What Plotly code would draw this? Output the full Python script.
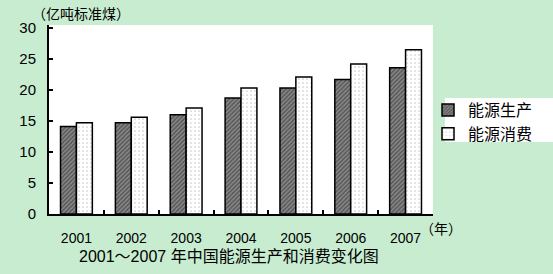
import plotly.graph_objects as go

years = ["2001", "2002", "2003", "2004", "2005", "2006", "2007"]
production = [14.1, 14.7, 16.0, 18.7, 20.3, 21.7, 23.6]
consumption = [14.7, 15.6, 17.1, 20.3, 22.1, 24.2, 26.5]
y_ticks = [0, 5, 10, 15, 20, 25, 30]

FONT = "Liberation Sans, Noto Sans CJK SC, sans-serif"
BG = "#c8ecd0"

fig = go.Figure()
fig.add_trace(go.Bar(
    x=years, y=production, name="能源生产",
    marker=dict(color="#6a6a6a", line=dict(color="black", width=1.5),
                pattern=dict(shape="/", fgcolor="#222", bgcolor="#8a8a8a", size=3, solidity=0.5)),
))
fig.add_trace(go.Bar(
    x=years, y=consumption, name="能源消费",
    marker=dict(color="white", line=dict(color="black", width=1.5),
                pattern=dict(shape=".", fgcolor="#999", bgcolor="white", size=4, solidity=0.15)),
))

fig.update_layout(
    width=553, height=274,
    margin=dict(l=49, r=120, t=25, b=60),
    paper_bgcolor=BG, plot_bgcolor="white",
    barmode="group", bargap=0.42, bargroupgap=0,
    font=dict(family=FONT, color="black", size=13),
    showlegend=True,
    legend=dict(x=0.987, xanchor="left", y=0.64, yanchor="top",
                bgcolor="rgba(0,0,0,0)", font=dict(size=16, family=FONT),
                itemwidth=30, tracegroupgap=0),
    xaxis=dict(showline=True, linecolor="black", linewidth=2, ticks="inside",
               tickson="boundaries", ticklen=4, tickcolor="black", tickwidth=1.5,
               tickfont=dict(size=14), ticklabelstandoff=10, fixedrange=True),
    yaxis=dict(range=[0, 30.48], tickvals=y_ticks, showline=True, linecolor="black",
               linewidth=2, ticks="inside", ticklen=4, tickcolor="black", tickwidth=1.5,
               showgrid=False, zeroline=False, tickfont=dict(size=15), ticklabelstandoff=8),
    shapes=[dict(type="rect", xref="paper", yref="paper", x0=1.031, x1=1.32,
                 y0=0.381, y1=0.614, fillcolor="white", line=dict(width=0), layer="below")],
    annotations=[
        dict(text="（亿吨标准煤）", xref="paper", yref="paper", x=-0.05, y=1.0,
             xanchor="left", yanchor="bottom", showarrow=False, font=dict(size=14), yshift=1),
        dict(text="（年）", xref="paper", yref="paper", x=0.96, y=0, xanchor="left",
             yanchor="top", showarrow=False, font=dict(size=14), yshift=-5),
        dict(text="2001～2007 年中国能源生产和消费变化图", xref="paper", yref="paper",
             x=0.47, y=0, xanchor="center", yanchor="top", yshift=-32,
             showarrow=False, font=dict(size=16)),
    ],
)

fig.write_html("out.html")
